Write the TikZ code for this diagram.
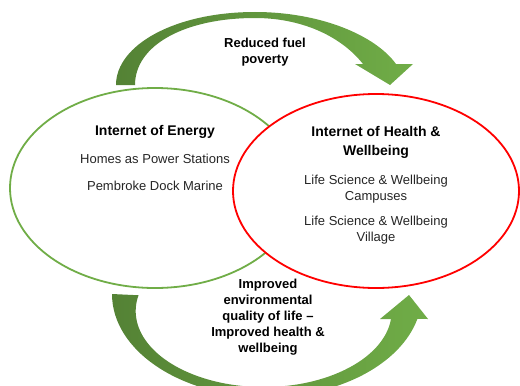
\documentclass[tikz,border=0pt]{standalone}
\usepackage{fontspec}
\setmainfont{Liberation Sans}
\usetikzlibrary{shapes.geometric, positioning}
\definecolor{leafgreen}{HTML}{70AD47}
\definecolor{darkleaf}{HTML}{548235}
\definecolor{ringred}{HTML}{FF0000}

\begin{document}
\begin{tikzpicture}[x=1bp, y=1bp,
ring/.style={ellipse, line width=1.8bp, inner sep=0pt, fill=white},
headtext/.style={align=center, inner sep=0pt, font=\fontsize{14bp}{19bp}\selectfont\bfseries},
bodytext/.style={align=center, inner sep=0pt, text=black!85, font=\fontsize{13bp}{16bp}\selectfont},
flowtext/.style={align=center, inner sep=0pt, font=\fontsize{13bp}{16bp}\selectfont\bfseries},
bigarrow/.style={left color=darkleaf, right color=leafgreen, draw=none}
]
\useasboundingbox (0,0) rectangle (520,385);

% the two circles
\node[ring, draw=leafgreen, minimum width=290bp, minimum height=200bp] (energy) at (155,197) {};
\node[ring, draw=ringred, minimum width=286bp, minimum height=194bp] (health) at (376,194) {};

\node[headtext] (energyhead) at ([yshift=56bp]energy.center) {Internet of Energy};
\node[bodytext] (homes) at ([yshift=29bp]energy.center) {Homes as Power Stations};
\node[bodytext] (pembroke) at ([yshift=2bp]energy.center) {Pembroke Dock Marine};

\node[headtext] (healthhead) at ([yshift=48.5bp]health.center) {Internet of Health \&\\Wellbeing};
\node[bodytext] (campuses) at ([yshift=2bp]health.center) {Life Science \& Wellbeing\\Campuses};
\node[bodytext] (village) at ([yshift=-39.5bp]health.center) {Life Science \& Wellbeing\\Village};

% top arrow
\path[bigarrow] (116,300) .. controls (116,340) and (175,373) .. (255,373)
  .. controls (320,373) and (375,350) .. (396,321) -- (413,321) -- (390,300) -- (355,321) -- (363,321)
  .. controls (340,350) and (300,367) .. (255,367)
  .. controls (185,367) and (135,340) .. (135,300) -- cycle;
\node[flowtext] (fuel) at (265,332.5) {Reduced fuel\\poverty};

% bottom arrow
\path[bigarrow] (267,91) ++(180:155 and 103) arc[start angle=180, end angle=346, x radius=155, y radius=103]
  -- (428,66) -- (409,90) -- (380,66) -- (391,66)
  arc[start angle=354, end angle=168, x radius=128, y radius=76] -- cycle;
\node[flowtext] (quality) at (268,68) {Improved\\environmental\\quality of life --\\Improved health \&\\wellbeing};
\end{tikzpicture}
\end{document}
